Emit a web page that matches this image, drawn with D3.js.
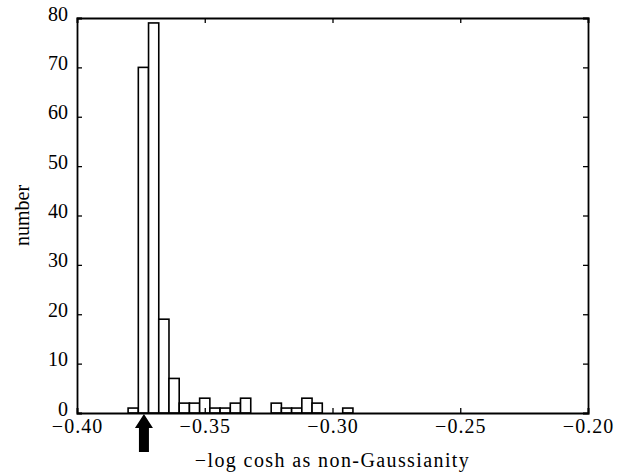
<!DOCTYPE html>
<html>
<head>
<meta charset="utf-8">
<script src="https://cdn.jsdelivr.net/npm/d3@7"></script>
<style>
  body { margin: 0; background: #fff; }
  text { font-family: "Liberation Serif", "DejaVu Serif", serif; fill: #000; }
</style>
</head>
<body>
<div id="chart"></div>
<script>
// histogram data: bins of width 0.004 starting at -0.380
var binStart = -0.380;
var binWidth = 0.004;
var counts = [1, 70, 79, 19, 7, 2, 2, 3, 1, 1, 2, 3, 0, 0, 2, 1, 1, 3, 2, 0, 0, 1];

var xTicks = [-0.40, -0.35, -0.30, -0.25, -0.20];
var yTicks = [0, 10, 20, 30, 40, 50, 60, 70, 80];
var arrowValue = -0.3738;

var svgWidth = 628;
var svgHeight = 473;
var margin = { top: 18, right: 40, bottom: 60, left: 77 };
var width = svgWidth - margin.left - margin.right;
var height = svgHeight - margin.top - margin.bottom;

var svg = d3.select("#chart").append("svg")
    .attr("width", svgWidth)
    .attr("height", svgHeight);

var g = svg.append("g")
    .attr("transform", `translate(${margin.left}, ${margin.top})`);

var x = d3.scaleLinear().domain([-0.40, -0.20]).range([0, width]);
var y = d3.scaleLinear().domain([0, 80]).range([height, 0]);

var bins = counts.map(function(c, i) {
  return { x0: binStart + i * binWidth, x1: binStart + (i + 1) * binWidth, n: c };
}).filter(d => d.n > 0);

// bars
g.selectAll("rect.bar")
  .data(bins)
  .enter()
  .append("rect")
  .attr("class", "bar")
  .attr("x", d => x(d.x0))
  .attr("width", d => x(d.x1) - x(d.x0))
  .attr("y", d => y(d.n))
  .attr("height", d => y(0) - y(d.n))
  .attr("fill", "#fff")
  .attr("stroke", "#000")
  .attr("stroke-width", 1.6);

// axes (ticks inside, mirrored on all sides)
var fmt = d => (d < 0 ? "\u2212" : "") + Math.abs(d).toFixed(2);

var xAxis = g.append("g")
  .attr("transform", `translate(0, ${height})`)
  .call(d3.axisBottom(x).tickValues(xTicks).tickSize(-5).tickPadding(10).tickFormat(fmt));

var xTop = g.append("g")
  .call(d3.axisTop(x).tickValues(xTicks).tickSize(-5).tickFormat(""));

var yAxis = g.append("g")
  .call(d3.axisLeft(y).tickValues(yTicks).tickSize(-5).tickPadding(9));

var yRight = g.append("g")
  .attr("transform", `translate(${width}, 0)`)
  .call(d3.axisRight(y).tickValues(yTicks).tickSize(-5).tickFormat(""));

[xAxis, xTop, yAxis, yRight].forEach(function(a) {
  a.select(".domain").attr("stroke-width", 1.8).attr("stroke", "#000");
  a.selectAll(".tick line").attr("stroke-width", 1.3).attr("stroke", "#000");
  a.selectAll("text")
    .style("font-family", "'Liberation Serif', serif")
    .style("font-size", "20px")
    .attr("fill", "#000");
});
yAxis.selectAll("text").attr("dy", "0.1em");
xAxis.selectAll("text").attr("dy", "0.5em").style("letter-spacing", "1px");

// arrow marker under the axis
var ax = x(arrowValue);
g.append("path")
  .attr("d", `M${ax},${height + 1} L${ax + 9},${height + 15} L${ax + 5},${height + 15} L${ax + 5},${height + 39} L${ax - 5},${height + 39} L${ax - 5},${height + 15} L${ax - 9},${height + 15} Z`)
  .attr("fill", "#000");

// axis labels
g.append("text")
  .attr("x", width / 2)
  .attr("y", height + 54)
  .attr("text-anchor", "middle")
  .style("font-size", "20px")
  .style("letter-spacing", "1.4px")
  .text("\u2212log cosh as non-Gaussianity");

g.append("text")
  .attr("transform", "rotate(-90)")
  .attr("x", -(height / 2))
  .attr("y", -margin.left + 29)
  .attr("text-anchor", "middle")
  .style("font-size", "20px")
  .text("number");
</script>
</body>
</html>
